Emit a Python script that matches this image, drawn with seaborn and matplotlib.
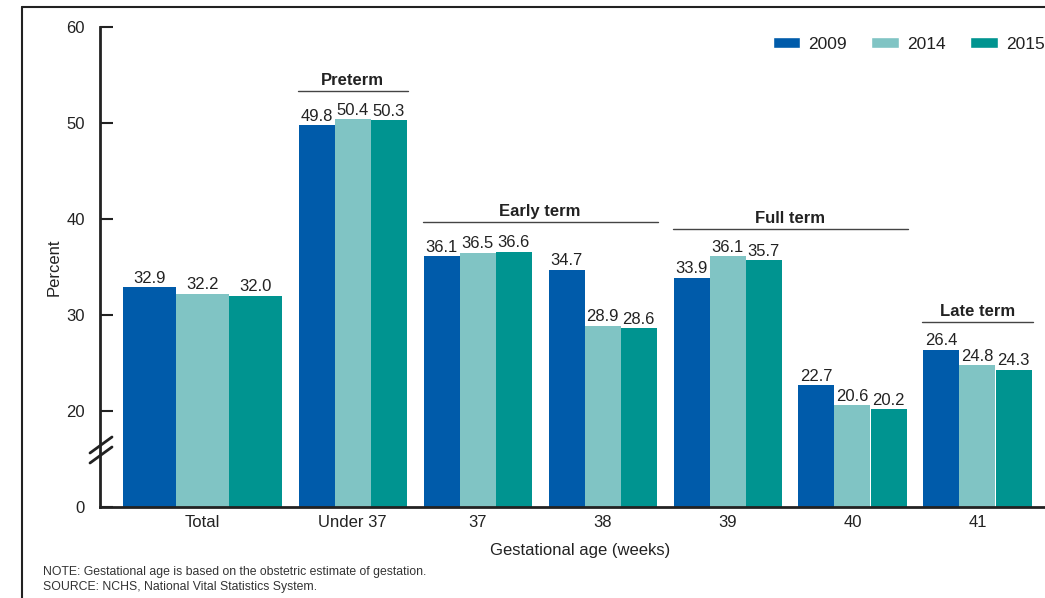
import numpy as np
import pandas as pd
import matplotlib
matplotlib.use("Agg")
import matplotlib.pyplot as plt
from matplotlib.lines import Line2D
from matplotlib.patches import Patch
import seaborn as sns

# data (percent)
groups = ["Total", "Under 37", "37", "38", "39", "40", "41"]
positions = [0.0, 1.2, 2.2, 3.2, 4.2, 5.2, 6.2]
years = ["2009", "2014", "2015"]
v2009 = [32.9, 49.8, 36.1, 34.7, 33.9, 22.7, 26.4]
v2014 = [32.2, 50.4, 36.5, 28.9, 36.1, 20.6, 24.8]
v2015 = [32.0, 50.3, 36.6, 28.6, 35.7, 20.2, 24.3]
ytick_vals = [0, 20, 30, 40, 50, 60]
BREAK = 10  # axis is broken between 0 and 20

colors = {"2009": "#005baa", "2014": "#80c4c4", "2015": "#009490"}

rows = []
for yr, vals in zip(years, [v2009, v2014, v2015]):
    for g, p, v in zip(groups, positions, vals):
        rows.append({"group": g, "pos": p, "year": yr, "value": v, "shown": v - BREAK})
df = pd.DataFrame(rows)

sns.set_theme(style="white")
plt.rcParams["font.family"] = ["Liberation Sans", "DejaVu Sans"]

fig = plt.figure(figsize=(10.45, 5.98), dpi=100)
ax = fig.add_axes([100 / 1045, 91 / 598, 960 / 1045, 480 / 598])

# Total bars are wider than the others
sns.barplot(data=df[df.group == "Total"], x="pos", y="shown", hue="year",
            palette=colors, native_scale=True, width=1.272, saturation=1,
            linewidth=0, legend=False, ax=ax)
sns.barplot(data=df[df.group != "Total"], x="pos", y="shown", hue="year",
            palette=colors, native_scale=True, width=0.864, saturation=1,
            linewidth=0, legend=False, ax=ax)

for c in ax.containers:
    ax.bar_label(c, labels=[f"{v + BREAK:.1f}" for v in c.datavalues],
                 padding=1, fontsize=12, color="#222222")

ax.set_xlim(-0.82, 6.86)
ax.set_ylim(0, 50)
ax.set_yticks([0] + [t - BREAK for t in ytick_vals[1:]], [str(t) for t in ytick_vals])
ax.set_xticks(positions, groups)
ax.tick_params(axis="y", direction="in", length=9, width=1.5, color="#222222",
               labelsize=12, pad=11, left=True, labelcolor="#222222")
ax.tick_params(axis="x", length=0, labelsize=12, pad=6, labelcolor="#222222")
for s in ["top", "right"]:
    ax.spines[s].set_visible(False)
for s in ["left", "bottom"]:
    ax.spines[s].set_linewidth(2)
    ax.spines[s].set_color("#222222")
ax.set_xlabel("Gestational age (weeks)", fontsize=12, labelpad=9, color="#222222")
ax.set_ylabel("Percent", fontsize=12, labelpad=3, color="#222222")

# group brackets
brackets = [("Preterm", 1.2, 1.2, 43.3), ("Early term", 2.2, 3.2, 29.7),
            ("Full term", 4.2, 5.2, 29.0), ("Late term", 6.2, 6.2, 19.3)]
for name, a, b, yl in brackets:
    x0, x1 = a - 0.44, b + 0.44
    ax.plot([x0, x1], [yl, yl], color="#444444", lw=1, clip_on=False)
    ax.text((x0 + x1) / 2, yl + 0.3, name, ha="center", va="bottom",
            fontsize=12, fontweight="bold", color="#222222")

# break marks on the y axis
for dy in [0, 10]:
    fig.add_artist(Line2D([90 / 1045, 112 / 1045],
                          [(598 - 463 + dy) / 598, (598 - 447 + dy) / 598],
                          color="#222222", lw=2))

# legend
handles = [Patch(facecolor=colors[y], label=y) for y in years]
fig.legend(handles=handles, loc="upper left", bbox_to_anchor=(757 / 1045, 1 - 21 / 598),
           ncol=3, frameon=False, fontsize=12.5, handlelength=1.6, handleheight=0.6,
           handletextpad=0.46, columnspacing=1.4, labelcolor="#222222")

# frame around the figure
fig.add_artist(Line2D([22 / 1045, 22 / 1045], [0, 1 - 7 / 598], color="#222222", lw=1.5))
fig.add_artist(Line2D([22 / 1045, 1], [1 - 7 / 598, 1 - 7 / 598], color="#222222", lw=1.5))

fig.text(43 / 1045, 1 - 572 / 598, "NOTE: Gestational age is based on the obstetric estimate of gestation.",
         fontsize=8.8, color="#333333", va="center")
fig.text(43 / 1045, 1 - 587 / 598, "SOURCE: NCHS, National Vital Statistics System.",
         fontsize=8.8, color="#333333", va="center")

fig.savefig("out.png", dpi=100)
